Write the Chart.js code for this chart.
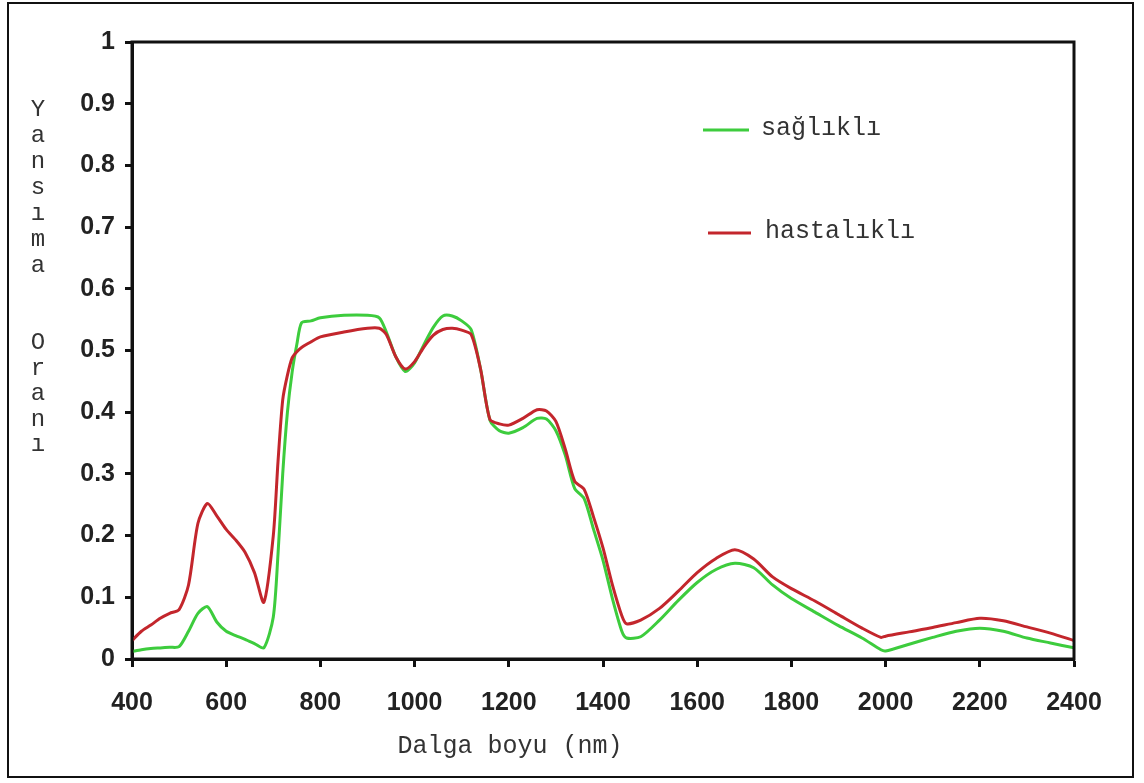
<!DOCTYPE html>
<html>
<head>
<meta charset="utf-8">
<script src="https://cdn.jsdelivr.net/npm/chart.js@4"></script>
<style>
  body { margin: 0; background: #fff; }
  #wrap { position: relative; width: 1144px; height: 783px; }
  #frame { position: absolute; left: 7px; top: 2px; width: 1127px; height: 776px; border: 2px solid #111; box-sizing: border-box; pointer-events: none; }
</style>
</head>
<body>
<div id="wrap">
  <canvas id="chart" width="1144" height="783"></canvas>
  <div id="frame"></div>
</div>
<script>
// wavelength (nm)
const wavelengths = [400, 420, 440, 460, 480, 500, 520, 540, 560, 580, 600, 620, 640, 660, 680, 700, 710, 720, 730, 740, 750, 760, 780, 800, 850, 900, 925, 940, 960, 980, 1000, 1020, 1040, 1060, 1080, 1100, 1120, 1140, 1160, 1180, 1200, 1230, 1260, 1280, 1300, 1320, 1340, 1360, 1380, 1400, 1420, 1440, 1450, 1480, 1520, 1560, 1600, 1640, 1680, 1720, 1760, 1800, 1850, 1900, 1950, 1990, 2000, 2050, 2100, 2150, 2200, 2250, 2300, 2350, 2400];

// healthy leaf
const saglikli = [0.012, 0.015, 0.017, 0.018, 0.019, 0.02, 0.045, 0.074, 0.085, 0.06, 0.045, 0.038, 0.032, 0.025, 0.018, 0.068, 0.17, 0.3, 0.4, 0.465, 0.51, 0.545, 0.548, 0.553, 0.557, 0.557, 0.553, 0.53, 0.49, 0.466, 0.48, 0.51, 0.538, 0.556, 0.556, 0.548, 0.534, 0.47, 0.387, 0.37, 0.366, 0.375, 0.39, 0.389, 0.37, 0.33, 0.276, 0.26, 0.21, 0.16, 0.098, 0.045, 0.034, 0.036, 0.063, 0.095, 0.124, 0.145, 0.155, 0.148, 0.12, 0.098, 0.076, 0.054, 0.034, 0.015, 0.013, 0.024, 0.035, 0.045, 0.05, 0.045, 0.034, 0.026, 0.018];

// diseased leaf
const hastalikli = [0.03, 0.045, 0.055, 0.066, 0.074, 0.08, 0.12, 0.22, 0.252, 0.232, 0.21, 0.193, 0.173, 0.14, 0.092, 0.2, 0.32, 0.42, 0.46, 0.488, 0.498, 0.505, 0.514, 0.522, 0.53, 0.536, 0.536, 0.526, 0.49, 0.47, 0.482, 0.506, 0.525, 0.534, 0.536, 0.533, 0.526, 0.47, 0.388, 0.381, 0.379, 0.39, 0.404, 0.402, 0.385, 0.34, 0.288, 0.275, 0.23, 0.18, 0.12, 0.07, 0.057, 0.063, 0.082, 0.11, 0.14, 0.163, 0.177, 0.162, 0.133, 0.114, 0.094, 0.072, 0.05, 0.035, 0.037, 0.044, 0.051, 0.059, 0.066, 0.062, 0.052, 0.042, 0.03];

const seriesNames = ["sağlıklı", "hastalıklı"];
const seriesColors = ["#3dcc3d", "#c3262c"];
const yTitleTop = ["Y", "a", "n", "s", "ı", "m", "a"];
const yTitleBottom = ["O", "r", "a", "n", "ı"];
const xTitle = "Dalga boyu (nm)";

const mono = "'Liberation Mono', 'Courier New', monospace";
const sans = "'Liberation Sans', Arial, sans-serif";

// frame, titles and legend drawn on top of the chart
const extras = {
  id: "extras",
  afterDraw(chart) {
    let ctx = chart.ctx;
    let a = chart.chartArea;
    ctx.save();
    ctx.strokeStyle = "#111";
    ctx.lineWidth = 3;
    ctx.strokeRect(a.left, a.top, a.right - a.left, a.bottom - a.top);

    ctx.fillStyle = "#333";
    ctx.font = "24px " + mono;
    ctx.textAlign = "center";
    ctx.textBaseline = "middle";
    yTitleTop.forEach((ch, i) => ctx.fillText(ch, 38, 110 + i * 26));
    yTitleBottom.forEach((ch, i) => ctx.fillText(ch, 38, 343 + i * 25.5));

    ctx.font = "25px " + mono;
    ctx.fillText(xTitle, 510, 746);

    // legend
    let legendY = [130, 233];
    let lineX = [[703, 749], [708, 751]];
    let textX = [761, 765];
    ctx.textAlign = "left";
    seriesNames.forEach((name, i) => {
      ctx.strokeStyle = seriesColors[i];
      ctx.lineWidth = 3;
      ctx.beginPath();
      ctx.moveTo(lineX[i][0], legendY[i]);
      ctx.lineTo(lineX[i][1], legendY[i]);
      ctx.stroke();
      ctx.fillStyle = "#333";
      ctx.fillText(name, textX[i], legendY[i] - 2);
    });
    ctx.restore();
  }
};

let ctx = document.getElementById("chart").getContext("2d");

new Chart(ctx, {
  type: "line",
  data: {
    datasets: [
      {
        label: seriesNames[1],
        data: wavelengths.map((w, i) => ({ x: w, y: hastalikli[i] })),
        borderColor: seriesColors[1],
        borderWidth: 3,
        pointRadius: 0,
        tension: 0.25,
        fill: false,
        order: 0
      },
      {
        label: seriesNames[0],
        data: wavelengths.map((w, i) => ({ x: w, y: saglikli[i] })),
        borderColor: seriesColors[0],
        borderWidth: 3,
        pointRadius: 0,
        tension: 0.25,
        fill: false,
        order: 1
      }
    ]
  },
  options: {
    responsive: false,
    animation: false,
    layout: { padding: { left: 0, right: 70, top: 42, bottom: 0 } },
    plugins: {
      legend: { display: false },
      tooltip: { enabled: false }
    },
    scales: {
      x: {
        type: "linear",
        min: 400,
        max: 2400,
        afterFit: (s) => { s.height = 124; },
        ticks: {
          stepSize: 200,
          padding: 21,
          color: "#222",
          font: { family: sans, size: 25, weight: "bold" },
          callback: (v) => String(v)
        },
        grid: { drawOnChartArea: false, tickLength: 8, tickColor: "#111", tickWidth: 3 },
        border: { color: "#111", width: 3 }
      },
      y: {
        min: 0,
        max: 1,
        afterFit: (s) => { s.width = 132; },
        ticks: {
          stepSize: 0.1,
          padding: 10,
          color: "#222",
          font: { family: sans, size: 25, weight: "bold" },
          callback: (v) => String(Math.round(v * 10) / 10)
        },
        grid: { drawOnChartArea: false, tickLength: 7, tickColor: "#111", tickWidth: 3 },
        border: { color: "#111", width: 3 }
      }
    }
  },
  plugins: [extras]
});
</script>
</body>
</html>
